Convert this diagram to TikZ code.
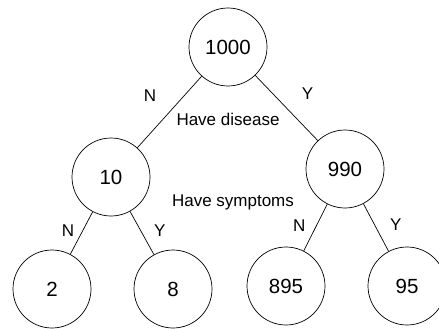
\documentclass[tikz,border=0pt]{standalone}
\usepackage{fontspec}
\setmainfont{Liberation Sans}
\usepackage{tikz}
\usetikzlibrary{positioning}

\begin{document}
\begin{tikzpicture}[x=1pt, y=-1pt, line width=0.7pt,
    count/.style={draw, circle, minimum size=78pt, inner sep=0pt, font=\fontsize{20.5}{24}\selectfont},
    lbl/.style={font=\fontsize{17}{20}\selectfont, inner sep=2pt}]
  \useasboundingbox (0,0) rectangle (439,329);
  \node[count] (all) at (228,47) {1000};
  \node[count] (nodis) at (111,177) {10};
  \node[count] (dis) at (345,169) {990};
  \node[count] (nn) at (52,289) {2};
  \node[count] (ny) at (173,289) {8};
  \node[count] (yn) at (286,286) {895};
  \node[count] (yy) at (407,286) {95};
  \draw (all) -- node[lbl, pos=0.5, above left=8pt and 11pt] {N} (nodis);
  \draw (all) -- node[lbl, pos=0.5, above right=6pt and 13pt] {Y} (dis);
  \draw (nodis) -- node[lbl, pos=0.45, left=6pt] {N} (nn);
  \draw (nodis) -- node[lbl, pos=0.45, right=11pt] {Y} (ny);
  \draw (dis) -- node[lbl, pos=0.45, left=9pt] {N} (yn);
  \draw (dis) -- node[lbl, pos=0.45, right=13pt] {Y} (yy);
  \node[lbl] (dislbl) at (228,119) {Have disease};
  \node[lbl] (symlbl) at (233,202) {Have symptoms};
\end{tikzpicture}
\end{document}
